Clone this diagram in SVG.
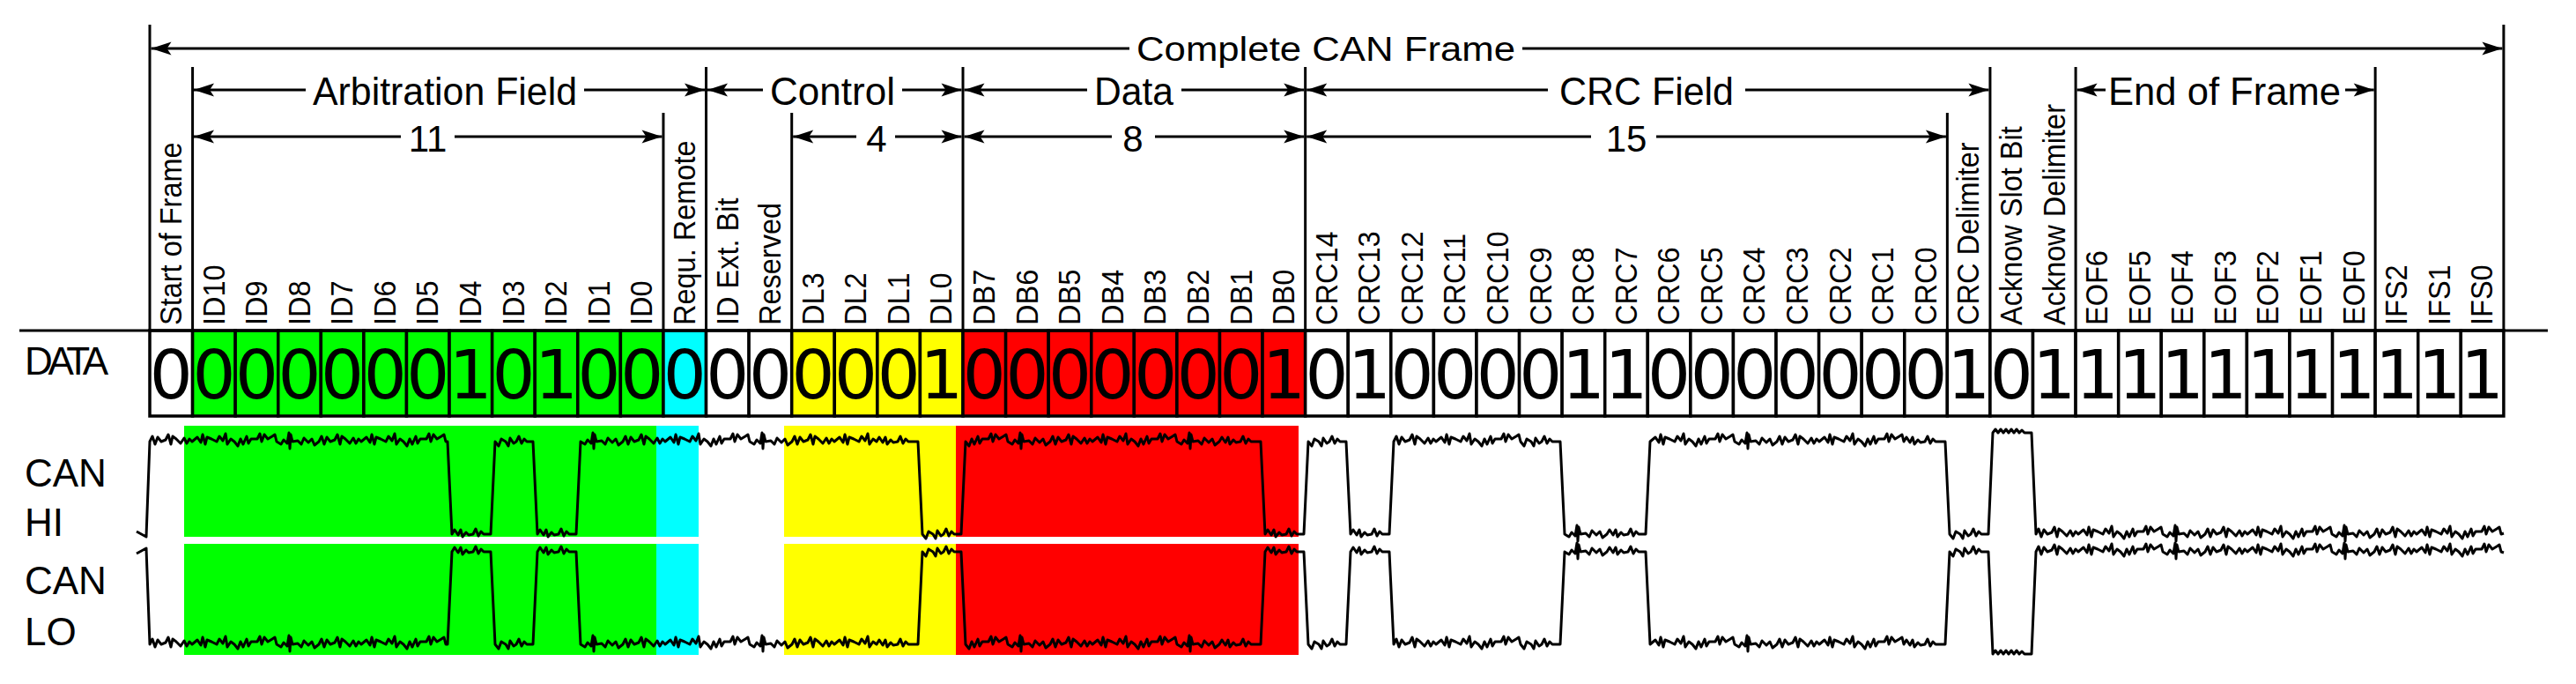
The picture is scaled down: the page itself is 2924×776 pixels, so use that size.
<svg xmlns="http://www.w3.org/2000/svg" width="2924" height="776" viewBox="0 0 2924 776">
<style>
.hd{font-family:"Liberation Sans",Arial,sans-serif;font-size:45px;text-anchor:middle;fill:#000}
.num{font-family:"Liberation Sans",Arial,sans-serif;font-size:42px;text-anchor:middle;fill:#000}
.lbl{font-family:"Liberation Sans",Arial,sans-serif;font-size:32.5px;fill:#000}
.dg{font-family:"DejaVu Sans",sans-serif;font-size:77px;text-anchor:middle;fill:#000}
.side{font-family:"Liberation Sans",Arial,sans-serif;font-size:44px;fill:#000}
.cell{stroke:#000;stroke-width:3.5}
.w{fill:#fff}.g{fill:#00ff00}.cy{fill:#00ffff}.y{fill:#ffff00}.r{fill:#ff0000}
.ln{stroke:#000;stroke-width:3;fill:none}
.ar{stroke:#000;stroke-width:3;fill:none;marker-end:url(#arr)}
.wave{stroke:#000;stroke-width:3;fill:none;stroke-linejoin:round}
</style>
<defs>
<marker id="arr" markerUnits="userSpaceOnUse" markerWidth="30" markerHeight="20" viewBox="-25 -10 30 20" refX="0" refY="0" orient="auto"><path d="M0,0 L-23,-7.5 L-18,0 L-23,7.5 Z" fill="#000"/></marker>
</defs>
<rect width="2924" height="776" fill="#fff"/>

<g id="side-labels">
<text class="side" x="28" y="425" textLength="95" lengthAdjust="spacing">DATA</text>
<text class="side" x="28" y="552">CAN</text>
<text class="side" x="28" y="608">HI</text>
<text class="side" x="28" y="674">CAN</text>
<text class="side" x="28" y="732">LO</text>
</g>

<g id="wave-bg">
<rect class="g" x="209" y="483" width="536" height="126"/>
<rect class="g" x="209" y="617" width="536" height="126"/>
<rect class="cy" x="745" y="483" width="48" height="126"/>
<rect class="cy" x="745" y="617" width="48" height="126"/>
<rect class="y" x="890" y="483" width="195" height="126"/>
<rect class="y" x="890" y="617" width="195" height="126"/>
<rect class="r" x="1085" y="483" width="389" height="126"/>
<rect class="r" x="1085" y="617" width="389" height="126"/>
</g>

<g id="can-hi">
<path class="wave" d="M155,603 L166,609 L170,501 l3,-6 3,9 3,-8 4,5 5,-2 3,-6 3,11 2,-9 4,3 5,5 4,-6 3,6 3,-5 3,3 l6,-5 4,6 2,-9 3,11 2,-8 5,2 6,3 3,-6 4,5 3,-8 2,12 4,-6 4,3 l4,5 3,-8 3,6 4,-9 2,8 3,-5 7,0 3,-6 2,9 3,-8 4,5 5,-3 3,-2 2,8 l5,3 3,-5 4,4 2,-12 1,18 1,-16 2,8 6,-1 4,4 3,-7 5,5 4,-4 3,7 5,-4 l3,-6 3,9 3,-8 4,5 5,-2 3,-6 3,11 2,-9 4,3 5,5 4,-6 3,6 3,-5 3,3 l6,-5 4,6 2,-9 3,11 2,-8 5,2 6,3 3,-6 4,5 3,-8 2,12 4,-6 4,3 l4,5 3,-8 3,6 4,-9 2,8 3,-5 7,0 3,-6 2,9 3,-8 4,5 5,-3 3,-2 2,8 L508,501 L513,606 l3,-5 4,6 3,-6 2,8 4,-5 3,3 5,-1 l3,-6 3,8 3,-5 3,3 L557,606 L562,501 l4,5 3,-8 5,3 3,5 2,-9 4,6 3,-2 l3,-6 3,8 3,-5 3,3 L605,501 L610,606 l3,-5 4,6 3,-6 2,8 4,-5 3,3 5,-1 l3,-6 3,8 3,-5 3,3 L654,606 L659,501 l5,3 3,-5 4,4 2,-12 1,18 1,-16 2,8 6,-1 4,4 3,-7 5,5 4,-4 3,7 5,-4 l3,-6 3,9 3,-8 4,5 5,-2 3,-6 3,11 2,-9 4,3 5,5 4,-6 3,6 3,-5 3,3 l6,-5 4,6 2,-9 3,11 2,-8 5,2 6,3 3,-6 4,5 3,-8 2,12 4,-6 4,3 l4,5 3,-8 3,6 4,-9 2,8 3,-5 7,0 3,-6 2,9 3,-8 4,5 5,-3 3,-2 2,8 l5,3 3,-5 4,4 2,-12 1,18 1,-16 2,8 6,-1 4,4 3,-7 5,5 4,-4 3,7 5,-4 l3,-6 3,9 3,-8 4,5 5,-2 3,-6 3,11 2,-9 4,3 5,5 4,-6 3,6 3,-5 3,3 l6,-5 4,6 2,-9 3,11 2,-8 5,2 6,3 3,-6 4,5 3,-8 2,12 4,-6 4,3 l3,-5 4,6 3,-6 2,8 4,-5 3,3 5,-1 l3,-6 3,8 3,-5 3,3 L1042,501 L1047,606 l4,5 3,-8 5,3 3,5 2,-9 4,6 3,-2 l3,-6 3,8 3,-5 3,3 L1091,606 L1096,501 l4,5 3,-8 3,6 4,-9 2,8 3,-5 7,0 3,-6 2,9 3,-8 4,5 5,-3 3,-2 2,8 l5,3 3,-5 4,4 2,-12 1,18 1,-16 2,8 6,-1 4,4 3,-7 5,5 4,-4 3,7 5,-4 l3,-6 3,9 3,-8 4,5 5,-2 3,-6 3,11 2,-9 4,3 5,5 4,-6 3,6 3,-5 3,3 l6,-5 4,6 2,-9 3,11 2,-8 5,2 6,3 3,-6 4,5 3,-8 2,12 4,-6 4,3 l4,5 3,-8 3,6 4,-9 2,8 3,-5 7,0 3,-6 2,9 3,-8 4,5 5,-3 3,-2 2,8 l5,3 3,-5 4,4 2,-12 1,18 1,-16 2,8 6,-1 4,4 3,-7 5,5 4,-4 3,7 5,-4 l3,-5 4,6 3,-6 2,8 4,-5 3,3 5,-1 l3,-6 3,8 3,-5 3,3 L1431,501 L1436,606 l3,-5 4,6 3,-6 2,8 4,-5 3,3 5,-1 l3,-6 3,8 3,-5 3,3 L1480,606 L1485,501 l4,5 3,-8 5,3 3,5 2,-9 4,6 3,-2 l3,-6 3,8 3,-5 3,3 L1528,501 L1533,606 l3,-5 4,6 3,-6 2,8 4,-5 3,3 5,-1 l3,-6 3,8 3,-5 3,3 L1577,606 L1582,501 l3,-6 3,9 3,-8 4,5 5,-2 3,-6 3,11 2,-9 4,3 5,5 4,-6 3,6 3,-5 3,3 l6,-5 4,6 2,-9 3,11 2,-8 5,2 6,3 3,-6 4,5 3,-8 2,12 4,-6 4,3 l4,5 3,-8 3,6 4,-9 2,8 3,-5 7,0 3,-6 2,9 3,-8 4,5 5,-3 3,-2 2,8 l4,5 3,-8 5,3 3,5 2,-9 4,6 3,-2 l3,-6 3,8 3,-5 3,3 L1771,501 L1776,606 l5,3 3,-5 4,4 2,-12 1,18 1,-16 2,8 6,-1 4,4 3,-7 5,5 4,-4 3,7 5,-4 l3,-5 4,6 3,-6 2,8 4,-5 3,3 5,-1 l3,-6 3,8 3,-5 3,3 L1868,606 L1873,501 l6,-5 4,6 2,-9 3,11 2,-8 5,2 6,3 3,-6 4,5 3,-8 2,12 4,-6 4,3 l4,5 3,-8 3,6 4,-9 2,8 3,-5 7,0 3,-6 2,9 3,-8 4,5 5,-3 3,-2 2,8 l5,3 3,-5 4,4 2,-12 1,18 1,-16 2,8 6,-1 4,4 3,-7 5,5 4,-4 3,7 5,-4 l3,-6 3,9 3,-8 4,5 5,-2 3,-6 3,11 2,-9 4,3 5,5 4,-6 3,6 3,-5 3,3 l6,-5 4,6 2,-9 3,11 2,-8 5,2 6,3 3,-6 4,5 3,-8 2,12 4,-6 4,3 l4,5 3,-8 3,6 4,-9 2,8 3,-5 7,0 3,-6 2,9 3,-8 4,5 5,-3 3,-2 2,8 l3,-5 4,6 3,-6 2,8 4,-5 3,3 5,-1 l3,-6 3,8 3,-5 3,3 L2208,501 L2213,606 l4,5 3,-8 5,3 3,5 2,-9 4,6 3,-2 l3,-6 3,8 3,-5 3,3 L2257,606 L2262,491 l3,-4 3,4 3,-4 3,4 3,-4 3,4 3,-4 3,4 3,-4 3,4 3,-3 3,3 L2306,491 L2311,606 l3,-6 3,9 3,-8 4,5 5,-2 3,-6 3,11 2,-9 4,3 5,5 4,-6 3,6 3,-5 3,3 l6,-5 4,6 2,-9 3,11 2,-8 5,2 6,3 3,-6 4,5 3,-8 2,12 4,-6 4,3 l4,5 3,-8 3,6 4,-9 2,8 3,-5 7,0 3,-6 2,9 3,-8 4,5 5,-3 3,-2 2,8 l5,3 3,-5 4,4 2,-12 1,18 1,-16 2,8 6,-1 4,4 3,-7 5,5 4,-4 3,7 5,-4 l3,-6 3,9 3,-8 4,5 5,-2 3,-6 3,11 2,-9 4,3 5,5 4,-6 3,6 3,-5 3,3 l6,-5 4,6 2,-9 3,11 2,-8 5,2 6,3 3,-6 4,5 3,-8 2,12 4,-6 4,3 l4,5 3,-8 3,6 4,-9 2,8 3,-5 7,0 3,-6 2,9 3,-8 4,5 5,-3 3,-2 2,8 l5,3 3,-5 4,4 2,-12 1,18 1,-16 2,8 6,-1 4,4 3,-7 5,5 4,-4 3,7 5,-4 l3,-6 3,9 3,-8 4,5 5,-2 3,-6 3,11 2,-9 4,3 5,5 4,-6 3,6 3,-5 3,3 l6,-5 4,6 2,-9 3,11 2,-8 5,2 6,3 3,-6 4,5 3,-8 2,12 4,-6 4,3 l4,5 3,-8 3,6 4,-9 2,8 3,-5 7,0 3,-6 2,9 3,-8 4,5 5,-3 3,-2 2,8 L2842,605"/>
</g>

<g id="can-lo">
<path class="wave" d="M155,628 L166,622 L170,731 l3,-6 3,9 3,-8 4,5 5,-2 3,-6 3,11 2,-9 4,3 5,5 4,-6 3,6 3,-5 3,3 l6,-5 4,6 2,-9 3,11 2,-8 5,2 6,3 3,-6 4,5 3,-8 2,12 4,-6 4,3 l4,5 3,-8 3,6 4,-9 2,8 3,-5 7,0 3,-6 2,9 3,-8 4,5 5,-3 3,-2 2,8 l5,3 3,-5 4,4 2,-12 1,18 1,-16 2,8 6,-1 4,4 3,-7 5,5 4,-4 3,7 5,-4 l3,-6 3,9 3,-8 4,5 5,-2 3,-6 3,11 2,-9 4,3 5,5 4,-6 3,6 3,-5 3,3 l6,-5 4,6 2,-9 3,11 2,-8 5,2 6,3 3,-6 4,5 3,-8 2,12 4,-6 4,3 l4,5 3,-8 3,6 4,-9 2,8 3,-5 7,0 3,-6 2,9 3,-8 4,5 5,-3 3,-2 2,8 L508,731 L513,626 l3,-5 4,6 3,-6 2,8 4,-5 3,3 5,-1 l3,-6 3,8 3,-5 3,3 L557,626 L562,731 l4,5 3,-8 5,3 3,5 2,-9 4,6 3,-2 l3,-6 3,8 3,-5 3,3 L605,731 L610,626 l3,-5 4,6 3,-6 2,8 4,-5 3,3 5,-1 l3,-6 3,8 3,-5 3,3 L654,626 L659,731 l5,3 3,-5 4,4 2,-12 1,18 1,-16 2,8 6,-1 4,4 3,-7 5,5 4,-4 3,7 5,-4 l3,-6 3,9 3,-8 4,5 5,-2 3,-6 3,11 2,-9 4,3 5,5 4,-6 3,6 3,-5 3,3 l6,-5 4,6 2,-9 3,11 2,-8 5,2 6,3 3,-6 4,5 3,-8 2,12 4,-6 4,3 l4,5 3,-8 3,6 4,-9 2,8 3,-5 7,0 3,-6 2,9 3,-8 4,5 5,-3 3,-2 2,8 l5,3 3,-5 4,4 2,-12 1,18 1,-16 2,8 6,-1 4,4 3,-7 5,5 4,-4 3,7 5,-4 l3,-6 3,9 3,-8 4,5 5,-2 3,-6 3,11 2,-9 4,3 5,5 4,-6 3,6 3,-5 3,3 l6,-5 4,6 2,-9 3,11 2,-8 5,2 6,3 3,-6 4,5 3,-8 2,12 4,-6 4,3 l3,-5 4,6 3,-6 2,8 4,-5 3,3 5,-1 l3,-6 3,8 3,-5 3,3 L1042,731 L1047,626 l4,5 3,-8 5,3 3,5 2,-9 4,6 3,-2 l3,-6 3,8 3,-5 3,3 L1091,626 L1096,731 l4,5 3,-8 3,6 4,-9 2,8 3,-5 7,0 3,-6 2,9 3,-8 4,5 5,-3 3,-2 2,8 l5,3 3,-5 4,4 2,-12 1,18 1,-16 2,8 6,-1 4,4 3,-7 5,5 4,-4 3,7 5,-4 l3,-6 3,9 3,-8 4,5 5,-2 3,-6 3,11 2,-9 4,3 5,5 4,-6 3,6 3,-5 3,3 l6,-5 4,6 2,-9 3,11 2,-8 5,2 6,3 3,-6 4,5 3,-8 2,12 4,-6 4,3 l4,5 3,-8 3,6 4,-9 2,8 3,-5 7,0 3,-6 2,9 3,-8 4,5 5,-3 3,-2 2,8 l5,3 3,-5 4,4 2,-12 1,18 1,-16 2,8 6,-1 4,4 3,-7 5,5 4,-4 3,7 5,-4 l3,-5 4,6 3,-6 2,8 4,-5 3,3 5,-1 l3,-6 3,8 3,-5 3,3 L1431,731 L1436,626 l3,-5 4,6 3,-6 2,8 4,-5 3,3 5,-1 l3,-6 3,8 3,-5 3,3 L1480,626 L1485,731 l4,5 3,-8 5,3 3,5 2,-9 4,6 3,-2 l3,-6 3,8 3,-5 3,3 L1528,731 L1533,626 l3,-5 4,6 3,-6 2,8 4,-5 3,3 5,-1 l3,-6 3,8 3,-5 3,3 L1577,626 L1582,731 l3,-6 3,9 3,-8 4,5 5,-2 3,-6 3,11 2,-9 4,3 5,5 4,-6 3,6 3,-5 3,3 l6,-5 4,6 2,-9 3,11 2,-8 5,2 6,3 3,-6 4,5 3,-8 2,12 4,-6 4,3 l4,5 3,-8 3,6 4,-9 2,8 3,-5 7,0 3,-6 2,9 3,-8 4,5 5,-3 3,-2 2,8 l4,5 3,-8 5,3 3,5 2,-9 4,6 3,-2 l3,-6 3,8 3,-5 3,3 L1771,731 L1776,626 l5,3 3,-5 4,4 2,-12 1,18 1,-16 2,8 6,-1 4,4 3,-7 5,5 4,-4 3,7 5,-4 l3,-5 4,6 3,-6 2,8 4,-5 3,3 5,-1 l3,-6 3,8 3,-5 3,3 L1868,626 L1873,731 l6,-5 4,6 2,-9 3,11 2,-8 5,2 6,3 3,-6 4,5 3,-8 2,12 4,-6 4,3 l4,5 3,-8 3,6 4,-9 2,8 3,-5 7,0 3,-6 2,9 3,-8 4,5 5,-3 3,-2 2,8 l5,3 3,-5 4,4 2,-12 1,18 1,-16 2,8 6,-1 4,4 3,-7 5,5 4,-4 3,7 5,-4 l3,-6 3,9 3,-8 4,5 5,-2 3,-6 3,11 2,-9 4,3 5,5 4,-6 3,6 3,-5 3,3 l6,-5 4,6 2,-9 3,11 2,-8 5,2 6,3 3,-6 4,5 3,-8 2,12 4,-6 4,3 l4,5 3,-8 3,6 4,-9 2,8 3,-5 7,0 3,-6 2,9 3,-8 4,5 5,-3 3,-2 2,8 l3,-5 4,6 3,-6 2,8 4,-5 3,3 5,-1 l3,-6 3,8 3,-5 3,3 L2208,731 L2213,626 l4,5 3,-8 5,3 3,5 2,-9 4,6 3,-2 l3,-6 3,8 3,-5 3,3 L2257,626 L2262,742 l3,-4 3,4 3,-4 3,4 3,-4 3,4 3,-4 3,4 3,-4 3,4 3,-3 3,3 L2306,742 L2311,626 l3,-6 3,9 3,-8 4,5 5,-2 3,-6 3,11 2,-9 4,3 5,5 4,-6 3,6 3,-5 3,3 l6,-5 4,6 2,-9 3,11 2,-8 5,2 6,3 3,-6 4,5 3,-8 2,12 4,-6 4,3 l4,5 3,-8 3,6 4,-9 2,8 3,-5 7,0 3,-6 2,9 3,-8 4,5 5,-3 3,-2 2,8 l5,3 3,-5 4,4 2,-12 1,18 1,-16 2,8 6,-1 4,4 3,-7 5,5 4,-4 3,7 5,-4 l3,-6 3,9 3,-8 4,5 5,-2 3,-6 3,11 2,-9 4,3 5,5 4,-6 3,6 3,-5 3,3 l6,-5 4,6 2,-9 3,11 2,-8 5,2 6,3 3,-6 4,5 3,-8 2,12 4,-6 4,3 l4,5 3,-8 3,6 4,-9 2,8 3,-5 7,0 3,-6 2,9 3,-8 4,5 5,-3 3,-2 2,8 l5,3 3,-5 4,4 2,-12 1,18 1,-16 2,8 6,-1 4,4 3,-7 5,5 4,-4 3,7 5,-4 l3,-6 3,9 3,-8 4,5 5,-2 3,-6 3,11 2,-9 4,3 5,5 4,-6 3,6 3,-5 3,3 l6,-5 4,6 2,-9 3,11 2,-8 5,2 6,3 3,-6 4,5 3,-8 2,12 4,-6 4,3 l4,5 3,-8 3,6 4,-9 2,8 3,-5 7,0 3,-6 2,9 3,-8 4,5 5,-3 3,-2 2,8 L2842,627"/>
</g>

<g id="bits">
<g id="bit-sof" transform="translate(170,0)"><rect class="cell w" x="0" y="375" width="48.58" height="97"/><text class="dg" x="24.29" y="452">0</text><text class="lbl" transform="translate(36,369) rotate(-90) scale(1,1.1)">Start of Frame</text></g>
<g id="bit-id10" transform="translate(218.58,0)"><rect class="cell g" x="0" y="375" width="48.58" height="97"/><text class="dg" x="24.29" y="452">0</text><text class="lbl" transform="translate(36,369) rotate(-90) scale(1,1.1)">ID10</text></g>
<g id="bit-id9" transform="translate(267.16,0)"><rect class="cell g" x="0" y="375" width="48.58" height="97"/><text class="dg" x="24.29" y="452">0</text><text class="lbl" transform="translate(36,369) rotate(-90) scale(1,1.1)">ID9</text></g>
<g id="bit-id8" transform="translate(315.74,0)"><rect class="cell g" x="0" y="375" width="48.58" height="97"/><text class="dg" x="24.29" y="452">0</text><text class="lbl" transform="translate(36,369) rotate(-90) scale(1,1.1)">ID8</text></g>
<g id="bit-id7" transform="translate(364.32,0)"><rect class="cell g" x="0" y="375" width="48.58" height="97"/><text class="dg" x="24.29" y="452">0</text><text class="lbl" transform="translate(36,369) rotate(-90) scale(1,1.1)">ID7</text></g>
<g id="bit-id6" transform="translate(412.9,0)"><rect class="cell g" x="0" y="375" width="48.58" height="97"/><text class="dg" x="24.29" y="452">0</text><text class="lbl" transform="translate(36,369) rotate(-90) scale(1,1.1)">ID6</text></g>
<g id="bit-id5" transform="translate(461.48,0)"><rect class="cell g" x="0" y="375" width="48.58" height="97"/><text class="dg" x="24.29" y="452">0</text><text class="lbl" transform="translate(36,369) rotate(-90) scale(1,1.1)">ID5</text></g>
<g id="bit-id4" transform="translate(510.06,0)"><rect class="cell g" x="0" y="375" width="48.58" height="97"/><text class="dg" x="24.29" y="452">1</text><text class="lbl" transform="translate(36,369) rotate(-90) scale(1,1.1)">ID4</text></g>
<g id="bit-id3" transform="translate(558.64,0)"><rect class="cell g" x="0" y="375" width="48.58" height="97"/><text class="dg" x="24.29" y="452">0</text><text class="lbl" transform="translate(36,369) rotate(-90) scale(1,1.1)">ID3</text></g>
<g id="bit-id2" transform="translate(607.22,0)"><rect class="cell g" x="0" y="375" width="48.58" height="97"/><text class="dg" x="24.29" y="452">1</text><text class="lbl" transform="translate(36,369) rotate(-90) scale(1,1.1)">ID2</text></g>
<g id="bit-id1" transform="translate(655.8,0)"><rect class="cell g" x="0" y="375" width="48.58" height="97"/><text class="dg" x="24.29" y="452">0</text><text class="lbl" transform="translate(36,369) rotate(-90) scale(1,1.1)">ID1</text></g>
<g id="bit-id0" transform="translate(704.38,0)"><rect class="cell g" x="0" y="375" width="48.58" height="97"/><text class="dg" x="24.29" y="452">0</text><text class="lbl" transform="translate(36,369) rotate(-90) scale(1,1.1)">ID0</text></g>
<g id="bit-rtr" transform="translate(752.96,0)"><rect class="cell cy" x="0" y="375" width="48.58" height="97"/><text class="dg" x="24.29" y="452">0</text><text class="lbl" transform="translate(36,369) rotate(-90) scale(1,1.1)">Requ. Remote</text></g>
<g id="bit-ide" transform="translate(801.54,0)"><rect class="cell w" x="0" y="375" width="48.58" height="97"/><text class="dg" x="24.29" y="452">0</text><text class="lbl" transform="translate(36,369) rotate(-90) scale(1,1.1)">ID Ext. Bit</text></g>
<g id="bit-res" transform="translate(850.12,0)"><rect class="cell w" x="0" y="375" width="48.58" height="97"/><text class="dg" x="24.29" y="452">0</text><text class="lbl" transform="translate(36,369) rotate(-90) scale(1,1.1)">Reserved</text></g>
<g id="bit-dl3" transform="translate(898.7,0)"><rect class="cell y" x="0" y="375" width="48.58" height="97"/><text class="dg" x="24.29" y="452">0</text><text class="lbl" transform="translate(36,369) rotate(-90) scale(1,1.1)">DL3</text></g>
<g id="bit-dl2" transform="translate(947.28,0)"><rect class="cell y" x="0" y="375" width="48.58" height="97"/><text class="dg" x="24.29" y="452">0</text><text class="lbl" transform="translate(36,369) rotate(-90) scale(1,1.1)">DL2</text></g>
<g id="bit-dl1" transform="translate(995.86,0)"><rect class="cell y" x="0" y="375" width="48.58" height="97"/><text class="dg" x="24.29" y="452">0</text><text class="lbl" transform="translate(36,369) rotate(-90) scale(1,1.1)">DL1</text></g>
<g id="bit-dl0" transform="translate(1044.44,0)"><rect class="cell y" x="0" y="375" width="48.58" height="97"/><text class="dg" x="24.29" y="452">1</text><text class="lbl" transform="translate(36,369) rotate(-90) scale(1,1.1)">DL0</text></g>
<g id="bit-db7" transform="translate(1093.02,0)"><rect class="cell r" x="0" y="375" width="48.58" height="97"/><text class="dg" x="24.29" y="452">0</text><text class="lbl" transform="translate(36,369) rotate(-90) scale(1,1.1)">DB7</text></g>
<g id="bit-db6" transform="translate(1141.6,0)"><rect class="cell r" x="0" y="375" width="48.58" height="97"/><text class="dg" x="24.29" y="452">0</text><text class="lbl" transform="translate(36,369) rotate(-90) scale(1,1.1)">DB6</text></g>
<g id="bit-db5" transform="translate(1190.18,0)"><rect class="cell r" x="0" y="375" width="48.58" height="97"/><text class="dg" x="24.29" y="452">0</text><text class="lbl" transform="translate(36,369) rotate(-90) scale(1,1.1)">DB5</text></g>
<g id="bit-db4" transform="translate(1238.76,0)"><rect class="cell r" x="0" y="375" width="48.58" height="97"/><text class="dg" x="24.29" y="452">0</text><text class="lbl" transform="translate(36,369) rotate(-90) scale(1,1.1)">DB4</text></g>
<g id="bit-db3" transform="translate(1287.34,0)"><rect class="cell r" x="0" y="375" width="48.58" height="97"/><text class="dg" x="24.29" y="452">0</text><text class="lbl" transform="translate(36,369) rotate(-90) scale(1,1.1)">DB3</text></g>
<g id="bit-db2" transform="translate(1335.92,0)"><rect class="cell r" x="0" y="375" width="48.58" height="97"/><text class="dg" x="24.29" y="452">0</text><text class="lbl" transform="translate(36,369) rotate(-90) scale(1,1.1)">DB2</text></g>
<g id="bit-db1" transform="translate(1384.5,0)"><rect class="cell r" x="0" y="375" width="48.58" height="97"/><text class="dg" x="24.29" y="452">0</text><text class="lbl" transform="translate(36,369) rotate(-90) scale(1,1.1)">DB1</text></g>
<g id="bit-db0" transform="translate(1433.08,0)"><rect class="cell r" x="0" y="375" width="48.58" height="97"/><text class="dg" x="24.29" y="452">1</text><text class="lbl" transform="translate(36,369) rotate(-90) scale(1,1.1)">DB0</text></g>
<g id="bit-crc14" transform="translate(1481.66,0)"><rect class="cell w" x="0" y="375" width="48.58" height="97"/><text class="dg" x="24.29" y="452">0</text><text class="lbl" transform="translate(36,369) rotate(-90) scale(1,1.1)">CRC14</text></g>
<g id="bit-crc13" transform="translate(1530.24,0)"><rect class="cell w" x="0" y="375" width="48.58" height="97"/><text class="dg" x="24.29" y="452">1</text><text class="lbl" transform="translate(36,369) rotate(-90) scale(1,1.1)">CRC13</text></g>
<g id="bit-crc12" transform="translate(1578.82,0)"><rect class="cell w" x="0" y="375" width="48.58" height="97"/><text class="dg" x="24.29" y="452">0</text><text class="lbl" transform="translate(36,369) rotate(-90) scale(1,1.1)">CRC12</text></g>
<g id="bit-crc11" transform="translate(1627.4,0)"><rect class="cell w" x="0" y="375" width="48.58" height="97"/><text class="dg" x="24.29" y="452">0</text><text class="lbl" transform="translate(36,369) rotate(-90) scale(1,1.1)">CRC11</text></g>
<g id="bit-crc10" transform="translate(1675.98,0)"><rect class="cell w" x="0" y="375" width="48.58" height="97"/><text class="dg" x="24.29" y="452">0</text><text class="lbl" transform="translate(36,369) rotate(-90) scale(1,1.1)">CRC10</text></g>
<g id="bit-crc9" transform="translate(1724.56,0)"><rect class="cell w" x="0" y="375" width="48.58" height="97"/><text class="dg" x="24.29" y="452">0</text><text class="lbl" transform="translate(36,369) rotate(-90) scale(1,1.1)">CRC9</text></g>
<g id="bit-crc8" transform="translate(1773.14,0)"><rect class="cell w" x="0" y="375" width="48.58" height="97"/><text class="dg" x="24.29" y="452">1</text><text class="lbl" transform="translate(36,369) rotate(-90) scale(1,1.1)">CRC8</text></g>
<g id="bit-crc7" transform="translate(1821.72,0)"><rect class="cell w" x="0" y="375" width="48.58" height="97"/><text class="dg" x="24.29" y="452">1</text><text class="lbl" transform="translate(36,369) rotate(-90) scale(1,1.1)">CRC7</text></g>
<g id="bit-crc6" transform="translate(1870.3,0)"><rect class="cell w" x="0" y="375" width="48.58" height="97"/><text class="dg" x="24.29" y="452">0</text><text class="lbl" transform="translate(36,369) rotate(-90) scale(1,1.1)">CRC6</text></g>
<g id="bit-crc5" transform="translate(1918.88,0)"><rect class="cell w" x="0" y="375" width="48.58" height="97"/><text class="dg" x="24.29" y="452">0</text><text class="lbl" transform="translate(36,369) rotate(-90) scale(1,1.1)">CRC5</text></g>
<g id="bit-crc4" transform="translate(1967.46,0)"><rect class="cell w" x="0" y="375" width="48.58" height="97"/><text class="dg" x="24.29" y="452">0</text><text class="lbl" transform="translate(36,369) rotate(-90) scale(1,1.1)">CRC4</text></g>
<g id="bit-crc3" transform="translate(2016.04,0)"><rect class="cell w" x="0" y="375" width="48.58" height="97"/><text class="dg" x="24.29" y="452">0</text><text class="lbl" transform="translate(36,369) rotate(-90) scale(1,1.1)">CRC3</text></g>
<g id="bit-crc2" transform="translate(2064.62,0)"><rect class="cell w" x="0" y="375" width="48.58" height="97"/><text class="dg" x="24.29" y="452">0</text><text class="lbl" transform="translate(36,369) rotate(-90) scale(1,1.1)">CRC2</text></g>
<g id="bit-crc1" transform="translate(2113.2,0)"><rect class="cell w" x="0" y="375" width="48.58" height="97"/><text class="dg" x="24.29" y="452">0</text><text class="lbl" transform="translate(36,369) rotate(-90) scale(1,1.1)">CRC1</text></g>
<g id="bit-crc0" transform="translate(2161.78,0)"><rect class="cell w" x="0" y="375" width="48.58" height="97"/><text class="dg" x="24.29" y="452">0</text><text class="lbl" transform="translate(36,369) rotate(-90) scale(1,1.1)">CRC0</text></g>
<g id="bit-crcdel" transform="translate(2210.36,0)"><rect class="cell w" x="0" y="375" width="48.58" height="97"/><text class="dg" x="24.29" y="452">1</text><text class="lbl" transform="translate(36,369) rotate(-90) scale(1,1.1)">CRC Delimiter</text></g>
<g id="bit-ack" transform="translate(2258.94,0)"><rect class="cell w" x="0" y="375" width="48.58" height="97"/><text class="dg" x="24.29" y="452">0</text><text class="lbl" transform="translate(36,369) rotate(-90) scale(1,1.1)">Acknow Slot Bit</text></g>
<g id="bit-ackdel" transform="translate(2307.52,0)"><rect class="cell w" x="0" y="375" width="48.58" height="97"/><text class="dg" x="24.29" y="452">1</text><text class="lbl" transform="translate(36,369) rotate(-90) scale(1,1.1)">Acknow Delimiter</text></g>
<g id="bit-eof6" transform="translate(2356.1,0)"><rect class="cell w" x="0" y="375" width="48.58" height="97"/><text class="dg" x="24.29" y="452">1</text><text class="lbl" transform="translate(36,369) rotate(-90) scale(1,1.1)">EOF6</text></g>
<g id="bit-eof5" transform="translate(2404.68,0)"><rect class="cell w" x="0" y="375" width="48.58" height="97"/><text class="dg" x="24.29" y="452">1</text><text class="lbl" transform="translate(36,369) rotate(-90) scale(1,1.1)">EOF5</text></g>
<g id="bit-eof4" transform="translate(2453.26,0)"><rect class="cell w" x="0" y="375" width="48.58" height="97"/><text class="dg" x="24.29" y="452">1</text><text class="lbl" transform="translate(36,369) rotate(-90) scale(1,1.1)">EOF4</text></g>
<g id="bit-eof3" transform="translate(2501.84,0)"><rect class="cell w" x="0" y="375" width="48.58" height="97"/><text class="dg" x="24.29" y="452">1</text><text class="lbl" transform="translate(36,369) rotate(-90) scale(1,1.1)">EOF3</text></g>
<g id="bit-eof2" transform="translate(2550.42,0)"><rect class="cell w" x="0" y="375" width="48.58" height="97"/><text class="dg" x="24.29" y="452">1</text><text class="lbl" transform="translate(36,369) rotate(-90) scale(1,1.1)">EOF2</text></g>
<g id="bit-eof1" transform="translate(2599,0)"><rect class="cell w" x="0" y="375" width="48.58" height="97"/><text class="dg" x="24.29" y="452">1</text><text class="lbl" transform="translate(36,369) rotate(-90) scale(1,1.1)">EOF1</text></g>
<g id="bit-eof0" transform="translate(2647.58,0)"><rect class="cell w" x="0" y="375" width="48.58" height="97"/><text class="dg" x="24.29" y="452">1</text><text class="lbl" transform="translate(36,369) rotate(-90) scale(1,1.1)">EOF0</text></g>
<g id="bit-ifs2" transform="translate(2696.16,0)"><rect class="cell w" x="0" y="375" width="48.58" height="97"/><text class="dg" x="24.29" y="452">1</text><text class="lbl" transform="translate(36,369) rotate(-90) scale(1,1.1)">IFS2</text></g>
<g id="bit-ifs1" transform="translate(2744.74,0)"><rect class="cell w" x="0" y="375" width="48.58" height="97"/><text class="dg" x="24.29" y="452">1</text><text class="lbl" transform="translate(36,369) rotate(-90) scale(1,1.1)">IFS1</text></g>
<g id="bit-ifs0" transform="translate(2793.32,0)"><rect class="cell w" x="0" y="375" width="48.58" height="97"/><text class="dg" x="24.29" y="452">1</text><text class="lbl" transform="translate(36,369) rotate(-90) scale(1,1.1)">IFS0</text></g>
</g>

<g id="headers">
<text class="hd" x="1505" y="69" style="font-size:38px" textLength="430" lengthAdjust="spacingAndGlyphs">Complete CAN Frame</text>
<text class="hd" x="505" y="119" textLength="300" lengthAdjust="spacingAndGlyphs">Arbitration Field</text>
<text class="num" x="485.5" y="172">11</text>
<text class="hd" x="945" y="119" textLength="142" lengthAdjust="spacingAndGlyphs">Control</text>
<text class="num" x="995" y="172">4</text>
<text class="hd" x="1287" y="119" textLength="90" lengthAdjust="spacingAndGlyphs">Data</text>
<text class="num" x="1286" y="172">8</text>
<text class="hd" x="1869" y="119" textLength="198" lengthAdjust="spacingAndGlyphs">CRC Field</text>
<text class="num" x="1846" y="172">15</text>
<text class="hd" x="2525" y="119" textLength="264" lengthAdjust="spacingAndGlyphs">End of Frame</text>
</g>

<g id="connectors">
<line class="ln" x1="22" y1="375" x2="2892" y2="375"/>
<line class="ln" x1="170" y1="28" x2="170" y2="375"/>
<line class="ln" x1="2841.9" y1="28" x2="2841.9" y2="375"/>
<line class="ln" x1="218.58" y1="76" x2="218.58" y2="375"/>
<line class="ln" x1="801.54" y1="76" x2="801.54" y2="375"/>
<line class="ln" x1="1093.02" y1="76" x2="1093.02" y2="375"/>
<line class="ln" x1="1481.66" y1="76" x2="1481.66" y2="375"/>
<line class="ln" x1="2258.94" y1="76" x2="2258.94" y2="375"/>
<line class="ln" x1="2356.1" y1="76" x2="2356.1" y2="375"/>
<line class="ln" x1="2696.16" y1="76" x2="2696.16" y2="375"/>
<line class="ln" x1="752.96" y1="128" x2="752.96" y2="375"/>
<line class="ln" x1="898.7" y1="128" x2="898.7" y2="375"/>
<line class="ln" x1="2210.36" y1="128" x2="2210.36" y2="375"/>
<line class="ar" x1="1282" y1="55" x2="171.5" y2="55"/>
<line class="ar" x1="1728" y1="55" x2="2840.4" y2="55"/>
<line class="ar" x1="347" y1="102" x2="220" y2="102"/>
<line class="ar" x1="663" y1="102" x2="800" y2="102"/>
<line class="ar" x1="455" y1="155" x2="220" y2="155"/>
<line class="ar" x1="516" y1="155" x2="751.5" y2="155"/>
<line class="ar" x1="866" y1="102" x2="803" y2="102"/>
<line class="ar" x1="1024" y1="102" x2="1091.5" y2="102"/>
<line class="ar" x1="972" y1="155" x2="900.2" y2="155"/>
<line class="ar" x1="1016" y1="155" x2="1091.5" y2="155"/>
<line class="ar" x1="1234" y1="102" x2="1094.5" y2="102"/>
<line class="ar" x1="1341" y1="102" x2="1480.2" y2="102"/>
<line class="ar" x1="1262" y1="155" x2="1094.5" y2="155"/>
<line class="ar" x1="1311" y1="155" x2="1480.2" y2="155"/>
<line class="ar" x1="1757" y1="102" x2="1483.2" y2="102"/>
<line class="ar" x1="1981" y1="102" x2="2257.4" y2="102"/>
<line class="ar" x1="1806" y1="155" x2="1483.2" y2="155"/>
<line class="ar" x1="1880" y1="155" x2="2208.9" y2="155"/>
<line class="ar" x1="2390" y1="102" x2="2357.6" y2="102"/>
<line class="ar" x1="2662" y1="102" x2="2694.7" y2="102"/>
</g>
</svg>
